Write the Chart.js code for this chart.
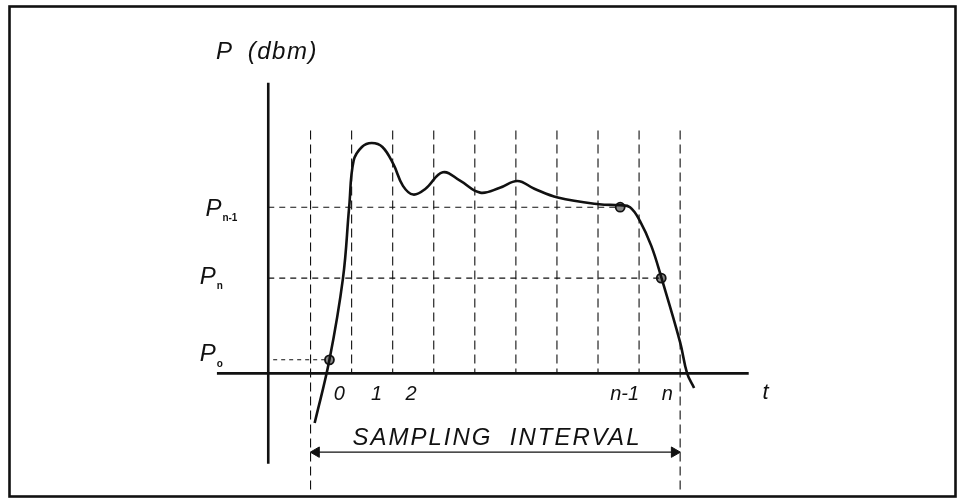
<!DOCTYPE html>
<html>
<head>
<meta charset="utf-8">
<script src="https://cdn.jsdelivr.net/npm/chart.js@4/dist/chart.umd.min.js"></script>
<style>
  html, body { margin: 0; padding: 0; background: #fff; }
  #wrap { width: 964px; height: 499px; }
</style>
</head>
<body>
<div id="wrap"><canvas id="chart" width="964" height="499"></canvas></div>
<script>
// t in sample-grid units, P in arbitrary dBm units (0 = time axis)
const curveT = [0.10, 0.46, 0.79, 0.94, 1.05, 1.25, 1.49, 1.75, 2.02, 2.25, 2.50, 2.80, 3.22, 3.65, 4.13, 4.61, 5.04, 5.45, 6.02, 7.03, 7.54, 7.78, 8.02, 8.30, 8.54, 9.00, 9.17, 9.34];
const curveP = [-5.1, 1.4, 9.8, 17.1, 21.9, 23.3, 23.7, 23.3, 21.5, 19.3, 18.4, 19.0, 20.7, 19.8, 18.6, 19.1, 19.8, 19.0, 18.1, 17.4, 17.3, 17.1, 15.7, 13.1, 9.9, 3.2, 0, -1.5];

const sampleGrid = [0, 1, 2, 3, 4, 5, 6, 7, 8, 9];
const intervalEdges = [0, 9];
const gridTop = 25.0;

const levelNames = ['o', 'n', 'n-1'];
const levelP = [1.4, 9.8, 17.1];
const levelT = [0.46, 8.54, 7.54];

const tickLabels = ['0', '1', '2', 'n-1', 'n'];
const tickT = [0.70, 1.61, 2.45, 7.65, 8.69];

const yAxisT = -1.03;
const yAxisRange = [-9.3, 29.9];
const tAxisRange = [-2.28, 10.67];
const arrowP = -8.1;
const viewT = [-7.392, 15.742];
const viewP = [-12.2, 37.7];

const ink = '#111';

function seg(x1, y1, x2, y2, extra) {
  return Object.assign({
    data: [{ x: x1, y: y1 }, { x: x2, y: y2 }],
    borderColor: ink, borderWidth: 1.2, pointRadius: 0, tension: 0
  }, extra || {});
}

const datasets = [];

sampleGrid.forEach((k) => {
  const bottom = intervalEdges.includes(k) ? viewP[0] : 0;
  datasets.push(seg(k, gridTop, k, bottom, { borderDash: [9, 5], borderWidth: 1.1 }));
});

levelP.forEach((p, i) => {
  const start = i === 0 ? yAxisT + 0.12 : yAxisT;
  datasets.push(seg(start, p, levelT[i], p, { borderDash: i === 0 ? [4, 4] : [6, 5], borderWidth: 1.1 }));
});

datasets.push(seg(yAxisT, yAxisRange[0], yAxisT, yAxisRange[1], { borderWidth: 2.6 }));
datasets.push(seg(tAxisRange[0], 0, tAxisRange[1], 0, { borderWidth: 2.6 }));

datasets.push({
  data: [{ x: intervalEdges[0] + 0.14, y: arrowP }, { x: intervalEdges[1] - 0.14, y: arrowP }],
  borderColor: ink, borderWidth: 1.4, tension: 0,
  pointStyle: 'triangle', pointRadius: 6, pointRotation: [-90, 90],
  pointBackgroundColor: ink, pointBorderColor: ink, pointBorderWidth: 1
});

datasets.push({
  data: curveT.map((t, i) => ({ x: t, y: curveP[i] })),
  borderColor: ink, borderWidth: 2.6, pointRadius: 0,
  tension: 0.4
});

datasets.push({
  data: levelT.map((t, i) => ({ x: t, y: levelP[i] })),
  showLine: false, pointRadius: 4.5, pointBorderWidth: 1.8,
  pointBorderColor: ink, pointBackgroundColor: '#888'
});

const decor = {
  id: 'decor',
  beforeDraw(chart) {
    const c = chart.ctx;
    c.save();
    c.fillStyle = '#fff';
    c.fillRect(0, 0, chart.width, chart.height);
    c.strokeStyle = ink;
    c.lineWidth = 2.6;
    c.strokeRect(9.5, 6.5, 946, 490);
    c.restore();
  },
  afterDatasetsDraw(chart) {
    const c = chart.ctx;
    const x = chart.scales.x, y = chart.scales.y;
    c.save();
    c.fillStyle = ink;
    c.textBaseline = 'middle';

    c.font = 'italic 24px "Liberation Sans", Arial, sans-serif';
    c.textAlign = 'left';
    c.fillText('P', x.getPixelForValue(-2.30), y.getPixelForValue(33.0));
    c.letterSpacing = '1.5px';
    c.fillText('(dbm)', x.getPixelForValue(-1.53), y.getPixelForValue(33.0));
    c.letterSpacing = '0px';

    levelP.forEach((p, i) => {
      const px = x.getPixelForValue(i === 2 ? -2.56 : -2.70);
      const py = y.getPixelForValue(p) + (i === 0 ? -5 : i === 2 ? 2 : -1);
      c.font = 'italic 24px "Liberation Sans", Arial, sans-serif';
      c.fillText('P', px, py);
      const w = c.measureText('P').width;
      c.font = 'bold 10px "Liberation Sans", Arial, sans-serif';
      c.fillText(levelNames[i], px + w + 1, py + 9);
    });

    c.font = 'italic 20px "Liberation Sans", Arial, sans-serif';
    c.textAlign = 'center';
    tickT.forEach((t, i) => {
      c.fillText(tickLabels[i], x.getPixelForValue(t), y.getPixelForValue(-2.2));
    });
    c.font = 'italic 22px "Liberation Sans", Arial, sans-serif';
    c.fillText('t', x.getPixelForValue(11.08), y.getPixelForValue(-2.0));

    c.font = 'italic 24px "Liberation Sans", Arial, sans-serif';
    c.letterSpacing = '2px';
    c.fillText('SAMPLING  INTERVAL', x.getPixelForValue(4.54), y.getPixelForValue(-6.7));
    c.restore();
  }
};

new Chart(document.getElementById('chart'), {
  type: 'line',
  data: { datasets },
  options: {
    responsive: false,
    animation: false,
    layout: { padding: 0 },
    plugins: { legend: { display: false }, tooltip: { enabled: false } },
    scales: {
      x: { type: 'linear', display: false, min: viewT[0], max: viewT[1] },
      y: { type: 'linear', display: false, min: viewP[0], max: viewP[1] }
    }
  },
  plugins: [decor]
});
</script>
</body>
</html>
